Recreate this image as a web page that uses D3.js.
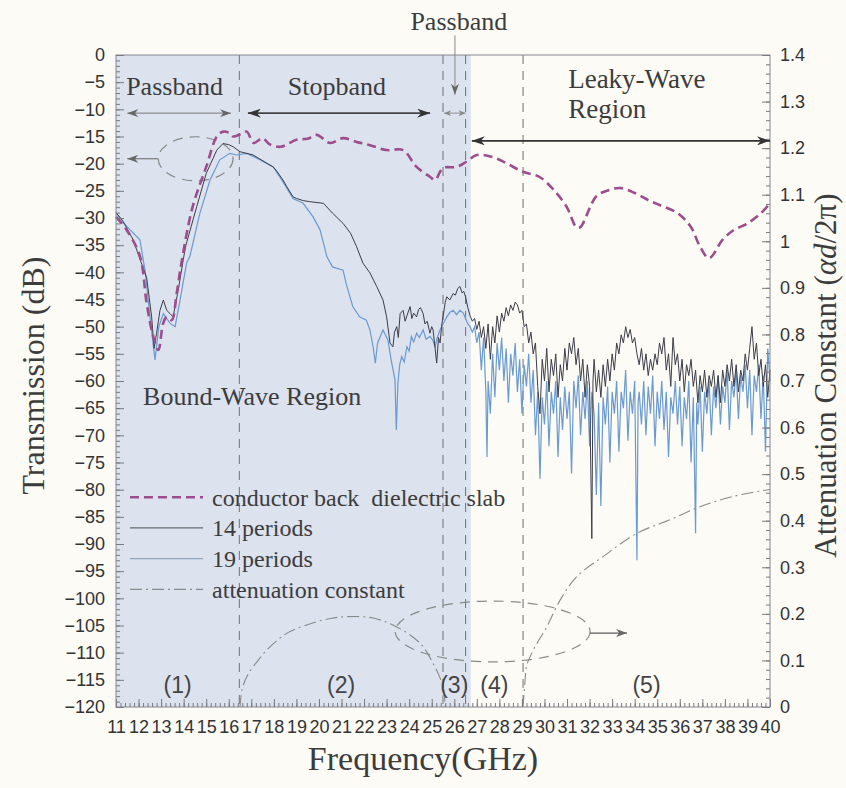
<!DOCTYPE html>
<html>
<head>
<meta charset="utf-8">
<script src="https://cdnjs.cloudflare.com/ajax/libs/d3/7.8.5/d3.min.js"></script>
<style>
  body { margin: 0; background: #fcfbf6; }
  svg { display: block; }
  .axis .tick text { font-family: "Liberation Sans", Arial, sans-serif; font-size: 18px; fill: #333; }
  .axis .tick line { stroke: #7a7a80; }
  .serif { font-family: "Liberation Serif", "Times New Roman", serif; fill: #3c3c3c; }
</style>
</head>
<body>
<svg id="chart" width="846" height="788"></svg>
<script>
// conductor back dielectric slab, [GHz, dB]
const slab = [
  [11.0, -29.8], [11.47, -32.2], [12.06, -37], [12.36, -45.7], [12.65, -51.8], [12.88, -54.3],
  [13.09, -49.4], [13.25, -48.2], [13.47, -48.8], [13.69, -43.9], [13.9, -38.3], [14.4, -27.9],
  [15.0, -20.6], [15.47, -15], [15.75, -14.1], [16.05, -14.4], [16.2, -15], [16.5, -14.6],
  [16.8, -14.1], [17.1, -16.2], [17.5, -15.3], [17.8, -16.4], [18.3, -16.9], [19.0, -15.6],
  [19.5, -15.4], [19.9, -14.7], [20.5, -16.2], [21.07, -15.3], [21.67, -16], [22.26, -16.6],
  [23.0, -17.5], [23.73, -17.5], [24.33, -20.6], [24.92, -22.4], [25.15, -23], [25.5, -20.8],
  [26.1, -20.6], [26.55, -19.6], [27.0, -18.4], [27.7, -18.8], [28.3, -19.9], [29.05, -21.5],
  [29.8, -22.5], [30.4, -24.8], [30.99, -28], [31.4, -31.6], [31.58, -31.7], [32.3, -26],
  [32.9, -24.8], [33.4, -24.5], [34.0, -25.4], [34.6, -26.7], [35.1, -27.6], [35.9, -29.1],
  [36.5, -31.7], [36.9, -35.3], [37.3, -37.4], [37.9, -34], [38.4, -32.2], [39.0, -31],
  [39.6, -29.1], [40.0, -27.3]
];

// 14 periods, [GHz, dB]
const periods14 = [
  [11.0, -29], [11.3, -30.5], [11.76, -34], [12.1, -38], [12.36, -41], [12.58, -48.2],
  [12.69, -54], [12.8, -51.2], [12.95, -47], [13.1, -45.1], [13.25, -47], [13.4, -47.6],
  [13.53, -48.2], [13.76, -43.3], [13.98, -37.7], [14.1, -35], [14.58, -27.9], [15.0, -21.8],
  [15.47, -17.5], [15.75, -16.3], [16.0, -16.5], [16.2, -16.9], [16.5, -17.8], [17.08, -18.4],
  [17.68, -19.9], [17.97, -20.6], [18.1, -21.2], [18.4, -23], [18.57, -24.2], [18.85, -26.1],
  [19.0, -26.4], [19.3, -26.8], [19.6, -27], [20.2, -27.3], [20.6, -29.1], [21.07, -31],
  [21.4, -32.8], [21.67, -35.3], [21.95, -38.3], [22.26, -40.1], [22.56, -42.6], [22.84, -45.1],
  [23.0, -48.2], [23.15, -53], [23.28, -53.7], [23.35, -51], [23.45, -50], [23.52, -52],
  [23.6, -47.6], [23.73, -47], [23.82, -49], [23.9, -48], [24.04, -46.3], [24.12, -48.5],
  [24.2, -47.5], [24.33, -48.2], [24.42, -46.8], [24.5, -46.5], [24.62, -47.6], [24.7, -49.5],
  [24.8, -49], [24.92, -51.2], [25.0, -50], [25.06, -50.6], [25.15, -54], [25.22, -56.7],
  [25.3, -52], [25.37, -53], [25.45, -49.5], [25.5, -48.2], [25.6, -45.5], [25.67, -44.5],
  [25.8, -45.1], [25.95, -43.9], [26.05, -44.2], [26.15, -43], [26.25, -42.6], [26.35, -43.8],
  [26.42, -43.5], [26.5, -44.5], [26.6, -46.5], [26.7, -48], [26.8, -49], [26.9, -48.5],
  [27.0, -50.5], [27.1, -49], [27.2, -52], [27.3, -50], [27.4, -54], [27.5, -49.5],
  [27.6, -56], [27.7, -50], [27.8, -53], [27.9, -48], [28.0, -51], [28.1, -47.5],
  [28.2, -49], [28.3, -46.5], [28.4, -48], [28.5, -46], [28.6, -47], [28.7, -45.5],
  [28.8, -46], [28.9, -47.5], [29.0, -47], [29.1, -50], [29.2, -49.5], [29.3, -53],
  [29.4, -51], [29.5, -55], [29.6, -53], [29.7, -61], [29.8, -66], [29.9, -56],
  [30.0, -60], [30.1, -54], [30.2, -62], [30.3, -56], [30.4, -59], [30.5, -55],
  [30.6, -63], [30.7, -57], [30.8, -60], [30.9, -54], [31.0, -58], [31.1, -53],
  [31.2, -55], [31.3, -52], [31.4, -57], [31.5, -54], [31.6, -60], [31.7, -56],
  [31.8, -63], [31.9, -57], [32.0, -61], [32.1, -89], [32.15, -60], [32.2, -56],
  [32.3, -62], [32.4, -58], [32.5, -63], [32.6, -57], [32.7, -61], [32.8, -56],
  [32.9, -60], [33.0, -55], [33.1, -58], [33.2, -53], [33.3, -55], [33.4, -51.5],
  [33.5, -53], [33.6, -50], [33.7, -52], [33.8, -50.5], [33.9, -53], [34.0, -52],
  [34.1, -55], [34.2, -57], [34.3, -54], [34.4, -58], [34.5, -55], [34.6, -59],
  [34.7, -56], [34.8, -58], [34.9, -55], [35.0, -57], [35.1, -53], [35.2, -55],
  [35.3, -52], [35.4, -58], [35.5, -55], [35.6, -61], [35.7, -52], [35.8, -57],
  [35.9, -55], [36.0, -60], [36.1, -56], [36.2, -62], [36.3, -57], [36.4, -59],
  [36.5, -56], [36.6, -61], [36.7, -58], [36.8, -64], [36.9, -59], [37.0, -62],
  [37.1, -58], [37.2, -63], [37.3, -59], [37.4, -61], [37.5, -58], [37.6, -63],
  [37.7, -59], [37.8, -64], [37.9, -58], [38.0, -61], [38.1, -57], [38.2, -60],
  [38.3, -56], [38.4, -61], [38.5, -57], [38.6, -62], [38.7, -58], [38.8, -60],
  [38.9, -55], [39.0, -58], [39.1, -54], [39.2, -50], [39.3, -56], [39.4, -53],
  [39.5, -59], [39.6, -56], [39.7, -61], [39.8, -57], [39.9, -63], [40.0, -58]
];

// 19 periods, [GHz, dB]
const periods19 = [
  [11.0, -29], [11.3, -30.8], [12.06, -34], [12.3, -40], [12.5, -48], [12.73, -56.1],
  [12.9, -50], [13.1, -47.6], [13.25, -48.5], [13.4, -49.4], [13.62, -50], [13.84, -45.1],
  [14.13, -38.3], [14.28, -37], [14.72, -29.1], [15.17, -23], [15.6, -19.3], [16.05, -18.1],
  [16.35, -18.4], [16.8, -18.1], [17.4, -19.3], [17.97, -20.6], [18.4, -23.3], [18.7, -25.4],
  [18.85, -26.4], [19.3, -27.3], [19.74, -29.8], [20.05, -32.2], [20.35, -37.1], [20.6, -39],
  [21.07, -39.6], [21.2, -42], [21.5, -46.3], [21.8, -48.2], [22.1, -48.8], [22.26, -50.6],
  [22.4, -53.7], [22.5, -56.7], [22.6, -53], [22.84, -50.6], [23.06, -52.5], [23.2, -56.1],
  [23.37, -59.8], [23.43, -69], [23.5, -60.4], [23.58, -57], [23.67, -55.5], [23.78, -56.5],
  [23.9, -53.7], [24.0, -54.5], [24.1, -51.8], [24.2, -52.8], [24.33, -51.2], [24.45, -52],
  [24.62, -50.6], [24.75, -52.3], [24.92, -51.8], [25.05, -52.5], [25.15, -53.7], [25.25, -52],
  [25.37, -50.6], [25.5, -49.5], [25.67, -48.2], [25.8, -47.4], [25.95, -47], [26.1, -47.8],
  [26.25, -47], [26.4, -47.5], [26.5, -48.5], [26.6, -49.5], [26.7, -50], [26.8, -51],
  [26.9, -50], [27.0, -53], [27.1, -51], [27.2, -58], [27.3, -52], [27.4, -62],
  [27.45, -74], [27.5, -60], [27.6, -66], [27.7, -55], [27.8, -63], [27.9, -53],
  [28.0, -58], [28.1, -52], [28.2, -60], [28.3, -54], [28.4, -64], [28.5, -55],
  [28.6, -59], [28.7, -53], [28.8, -62], [28.9, -56], [29.0, -66], [29.1, -57],
  [29.2, -61], [29.3, -55], [29.4, -64], [29.5, -58], [29.6, -70], [29.7, -62],
  [29.8, -78], [29.9, -63], [30.0, -68], [30.1, -60], [30.2, -72], [30.3, -62],
  [30.4, -66], [30.5, -60], [30.6, -74], [30.7, -63], [30.8, -69], [30.9, -61],
  [31.0, -67], [31.1, -62], [31.2, -77], [31.3, -60], [31.4, -65], [31.5, -59],
  [31.6, -70], [31.7, -62], [31.8, -67], [31.9, -60], [32.0, -72], [32.1, -62],
  [32.2, -66], [32.3, -81], [32.4, -64], [32.5, -83], [32.6, -63], [32.7, -68],
  [32.8, -61], [32.9, -75], [33.0, -62], [33.1, -66], [33.2, -60], [33.3, -73],
  [33.4, -62], [33.5, -65], [33.6, -58], [33.7, -71], [33.8, -62], [33.9, -66],
  [34.0, -60], [34.1, -93], [34.15, -64], [34.2, -62], [34.3, -68], [34.4, -60],
  [34.5, -70], [34.6, -61], [34.7, -66], [34.8, -59], [34.9, -72], [35.0, -62],
  [35.1, -67], [35.2, -60], [35.3, -69], [35.4, -62], [35.5, -74], [35.6, -63],
  [35.7, -66], [35.8, -60], [35.9, -68], [36.0, -61], [36.1, -72], [36.2, -63],
  [36.3, -67], [36.4, -60], [36.5, -75], [36.6, -63], [36.7, -88], [36.75, -64],
  [36.8, -68], [36.9, -61], [37.0, -73], [37.1, -62], [37.2, -66], [37.3, -60],
  [37.4, -70], [37.5, -61], [37.6, -65], [37.7, -59], [37.8, -68], [37.9, -61],
  [38.0, -64], [38.1, -58], [38.2, -69], [38.3, -60], [38.4, -63], [38.5, -58],
  [38.6, -67], [38.7, -59], [38.8, -62], [38.9, -57], [39.0, -65], [39.1, -58],
  [39.2, -70], [39.3, -59], [39.4, -62], [39.5, -57], [39.6, -67], [39.7, -59],
  [39.8, -73], [39.9, -54], [40.0, -60]
];

// attenuation constant (right axis), [GHz, alpha d / 2pi]
const attenuationBound = [
  [16.5, 0], [16.6, 0.04], [16.85, 0.07], [17.3, 0.1], [17.68, 0.122], [18.27, 0.148],
  [18.72, 0.162], [19.75, 0.181], [20.5, 0.19], [21.23, 0.194], [22.4, 0.191], [23.45, 0.172],
  [24.48, 0.137], [25.06, 0.094], [25.5, 0.044], [25.6, 0]
];
const attenuationLeaky = [
  [29.05, 0], [29.14, 0.058], [29.2, 0.087], [29.5, 0.122], [30.1, 0.172], [30.7, 0.23],
  [31.43, 0.28], [32.6, 0.323], [34.1, 0.373], [35.57, 0.402], [36.9, 0.43], [38.36, 0.452],
  [39.85, 0.466], [40.0, 0.467]
];

// region boundaries (GHz) and labels
const regionBounds = [11, 16.47, 25.5, 26.5, 29.05, 40];
const regionLabels = ['(1)', '(2)', '(3)', '(4)', '(5)'];
const boundWaveEnd = 26.73;

const freqTicks = [11, 12, 13, 14, 15, 16, 17, 18, 19, 20, 21, 22, 23, 24, 25, 26, 27, 28, 29, 30,
  31, 32, 33, 34, 35, 36, 37, 38, 39, 40];
const dbTicks = [0, -5, -10, -15, -20, -25, -30, -35, -40, -45, -50, -55, -60, -65, -70, -75, -80,
  -85, -90, -95, -100, -105, -110, -115, -120];
const alphaTicks = [0, 0.1, 0.2, 0.3, 0.4, 0.5, 0.6, 0.7, 0.8, 0.9, 1, 1.1, 1.2, 1.3, 1.4];

const legendLabels = ['conductor back  dielectric slab', '14 periods', '19 periods', 'attenuation constant'];

const svg = d3.select('#chart');
const plotLeft = 116, plotRight = 770, plotTop = 55, plotBottom = 707;

const x = d3.scaleLinear().domain([11, 40]).range([plotLeft, plotRight]);
const yL = d3.scaleLinear().domain([-120, 0]).range([plotBottom, plotTop]);
const yR = d3.scaleLinear().domain([0, 1.4]).range([plotBottom, plotTop]);

const slabColor = '#9c4d8b';
const p14Color = '#3d3d48';
const p19Color = '#6a9ad0';
const attColor = '#8a8a8a';

// arrow heads
const defs = svg.append('defs');
function addMarker(id, color, len, wid) {
  defs.append('marker')
    .attr('id', id)
    .attr('markerUnits', 'userSpaceOnUse')
    .attr('viewBox', `0 0 ${len} ${wid}`)
    .attr('refX', len)
    .attr('refY', wid / 2)
    .attr('markerWidth', len)
    .attr('markerHeight', wid)
    .attr('orient', 'auto-start-reverse')
    .append('path')
    .attr('d', `M0,0 L${len},${wid / 2} L0,${wid} L${len * 0.3},${wid / 2} Z`)
    .attr('fill', color);
}
addMarker('headDark', '#333', 13, 9);
addMarker('headGray', '#666', 11, 8);
addMarker('headLight', '#888', 7, 6);

svg.append('rect')
  .attr('width', 846).attr('height', 788).attr('fill', '#fcfbf6');

// bound-wave shading
svg.append('rect')
  .attr('x', x(11)).attr('y', plotTop)
  .attr('width', x(boundWaveEnd) - x(11))
  .attr('height', plotBottom - plotTop)
  .attr('fill', '#dce2ee');

// region dividers
svg.append('g').selectAll('line')
  .data(regionBounds.slice(1, -1))
  .enter().append('line')
  .attr('x1', d => x(d)).attr('x2', d => x(d))
  .attr('y1', plotTop).attr('y2', plotBottom)
  .attr('stroke', '#7c7c7c')
  .attr('stroke-width', 1.1)
  .attr('stroke-dasharray', '9,7');

// dashed ellipses marking which axis each group belongs to
svg.append('ellipse')
  .attr('cx', x(14.53)).attr('cy', yL(-19.1))
  .attr('rx', x(12.66) - x(11)).attr('ry', yL(-4.05) - yL(0))
  .attr('fill', 'none').attr('stroke', '#8a8a8a').attr('stroke-width', 1.2)
  .attr('stroke-dasharray', '10,7');
svg.append('ellipse')
  .attr('cx', x(27.7)).attr('cy', yL(-106.1))
  .attr('rx', x(15.32) - x(11)).attr('ry', yL(-5.6) - yL(0))
  .attr('fill', 'none').attr('stroke', '#8a8a8a').attr('stroke-width', 1.2)
  .attr('stroke-dasharray', '10,7');

const lineL = d3.line().x(d => x(d[0])).y(d => yL(d[1]));
const smoothL = d3.line().x(d => x(d[0])).y(d => yL(d[1])).curve(d3.curveCatmullRom.alpha(0.5));
const smoothR = d3.line().x(d => x(d[0])).y(d => yR(d[1])).curve(d3.curveCatmullRom.alpha(0.5));

svg.append('path').datum(periods19)
  .attr('d', lineL).attr('fill', 'none')
  .attr('stroke', p19Color).attr('stroke-width', 1.2);

svg.append('path').datum(periods14)
  .attr('d', lineL).attr('fill', 'none')
  .attr('stroke', p14Color).attr('stroke-width', 1);

svg.append('path').datum(slab)
  .attr('d', smoothL).attr('fill', 'none')
  .attr('stroke', slabColor).attr('stroke-width', 2.6)
  .attr('stroke-dasharray', '9,5');

[attenuationBound, attenuationLeaky].forEach(arc => {
  svg.append('path').datum(arc)
    .attr('d', smoothR).attr('fill', 'none')
    .attr('stroke', attColor).attr('stroke-width', 1.1)
    .attr('stroke-dasharray', '12,4,2,4');
});

// frame
svg.append('rect')
  .attr('x', plotLeft).attr('y', plotTop)
  .attr('width', plotRight - plotLeft).attr('height', plotBottom - plotTop)
  .attr('fill', 'none').attr('stroke', '#858590').attr('stroke-width', 1);

// axes: major ticks with labels, minor ticks without
function drawAxis(axis, tf) {
  const g = svg.append('g').attr('class', 'axis').attr('transform', tf).call(axis);
  g.select('.domain').remove();
  return g;
}
drawAxis(d3.axisLeft(yL).tickValues(dbTicks).tickSize(-8).tickPadding(11), `translate(${plotLeft},0)`);
drawAxis(d3.axisLeft(yL).tickValues(d3.range(-120, 0, 1)).tickSize(-4).tickFormat(''), `translate(${plotLeft},0)`);
drawAxis(d3.axisRight(yR).tickValues(alphaTicks).tickSize(-8).tickPadding(10)
  .tickFormat(d => String(+d.toFixed(1))), `translate(${plotRight},0)`);
drawAxis(d3.axisRight(yR).tickValues(d3.range(0, 1.4, 0.02)).tickSize(-4).tickFormat(''), `translate(${plotRight},0)`);
drawAxis(d3.axisBottom(x).tickValues(freqTicks).tickSize(-8).tickPadding(13), `translate(0,${plotBottom})`);
drawAxis(d3.axisBottom(x).tickValues(d3.range(11, 40, 0.2)).tickSize(-4).tickFormat(''), `translate(0,${plotBottom})`);

// axis titles
svg.append('text')
  .attr('class', 'serif')
  .attr('transform', `translate(44,${yL(-59)}) rotate(-90)`)
  .attr('text-anchor', 'middle')
  .style('font-size', '32px')
  .text('Transmission (dB)');

const rt = svg.append('text')
  .attr('class', 'serif')
  .attr('transform', `translate(836,${yL(-59)}) rotate(-90)`)
  .attr('text-anchor', 'middle')
  .style('font-size', '31px');
rt.append('tspan').text('Attenuation Constant (');
rt.append('tspan').style('font-style', 'italic').text('αd');
rt.append('tspan').text('/2π)');

svg.append('text')
  .attr('class', 'serif')
  .attr('x', x(25.5) - 20).attr('y', 770)
  .attr('text-anchor', 'middle')
  .style('font-size', '34px')
  .text('Frequency(GHz)');

// band annotations
function label(txt, f, db, size, anchor) {
  return svg.append('text')
    .attr('class', 'serif')
    .attr('x', x(f)).attr('y', yL(db))
    .attr('text-anchor', anchor || 'start')
    .style('font-size', size + 'px')
    .text(txt);
}
function arrow(f1, d1, f2, d2, color, w, marker, both) {
  const l = svg.append('line')
    .attr('x1', x(f1)).attr('y1', yL(d1))
    .attr('x2', x(f2)).attr('y2', yL(d2))
    .attr('stroke', color).attr('stroke-width', w)
    .attr('marker-end', `url(#${marker})`);
  if (both) l.attr('marker-start', `url(#${marker})`);
}

label('Passband', 11.45, -7.4, 26);
label('Stopband', 18.62, -7.4, 26);
label('Passband', 26.2, 4.6, 26, 'middle');
label('Leaky-Wave', 31.05, -6.1, 27);
label('Region', 31.05, -11.6, 27);
label('Bound-Wave Region', 12.2, -64.4, 26);

arrow(11.5, -10.7, 16.1, -10.7, '#777', 1, 'headGray', true);
arrow(16.85, -10.7, 24.93, -10.7, '#444', 1.6, 'headDark', true);
arrow(25.55, -10.7, 26.5, -10.7, '#888', 0.9, 'headLight', true);
arrow(26.03, 3.6, 26.03, -7.3, '#888', 1, 'headGray', false);
arrow(26.78, -15.8, 40, -15.8, '#333', 1.6, 'headDark', true);
arrow(12.86, -19.1, 11.5, -19.1, '#666', 1, 'headGray', false);
arrow(32.02, -106.4, 33.66, -106.4, '#333', 1, 'headGray', false);

// region numbers
svg.append('g').selectAll('text')
  .data(regionLabels)
  .enter().append('text')
  .attr('x', (d, i) => x((regionBounds[i] + regionBounds[i + 1]) / 2))
  .attr('y', yL(-117.4))
  .attr('text-anchor', 'middle')
  .style('font-family', '"Liberation Sans", Arial, sans-serif')
  .style('font-size', '23px')
  .attr('fill', '#444')
  .text(d => d);

// legend
const legendStyles = [
  {color: slabColor, width: 2.6, dash: '9,5'},
  {color: '#6a6a70', width: 1.2, dash: null},
  {color: '#8fa6c0', width: 1.2, dash: null},
  {color: attColor, width: 1.1, dash: '12,4,2,4'}
];
const legend = svg.append('g');
legendLabels.forEach((txt, i) => {
  const ly = yL(-81.4) + i * 30.7;
  legend.append('line')
    .attr('x1', x(11.62)).attr('x2', x(14.86))
    .attr('y1', ly).attr('y2', ly)
    .attr('stroke', legendStyles[i].color)
    .attr('stroke-width', legendStyles[i].width)
    .attr('stroke-dasharray', legendStyles[i].dash);
  legend.append('text')
    .attr('class', 'serif')
    .attr('x', x(15.26)).attr('y', ly + 8.5)
    .attr('xml:space', 'preserve')
    .style('white-space', 'pre')
    .style('font-size', '24px')
    .text(txt);
});
</script>
</body>
</html>
